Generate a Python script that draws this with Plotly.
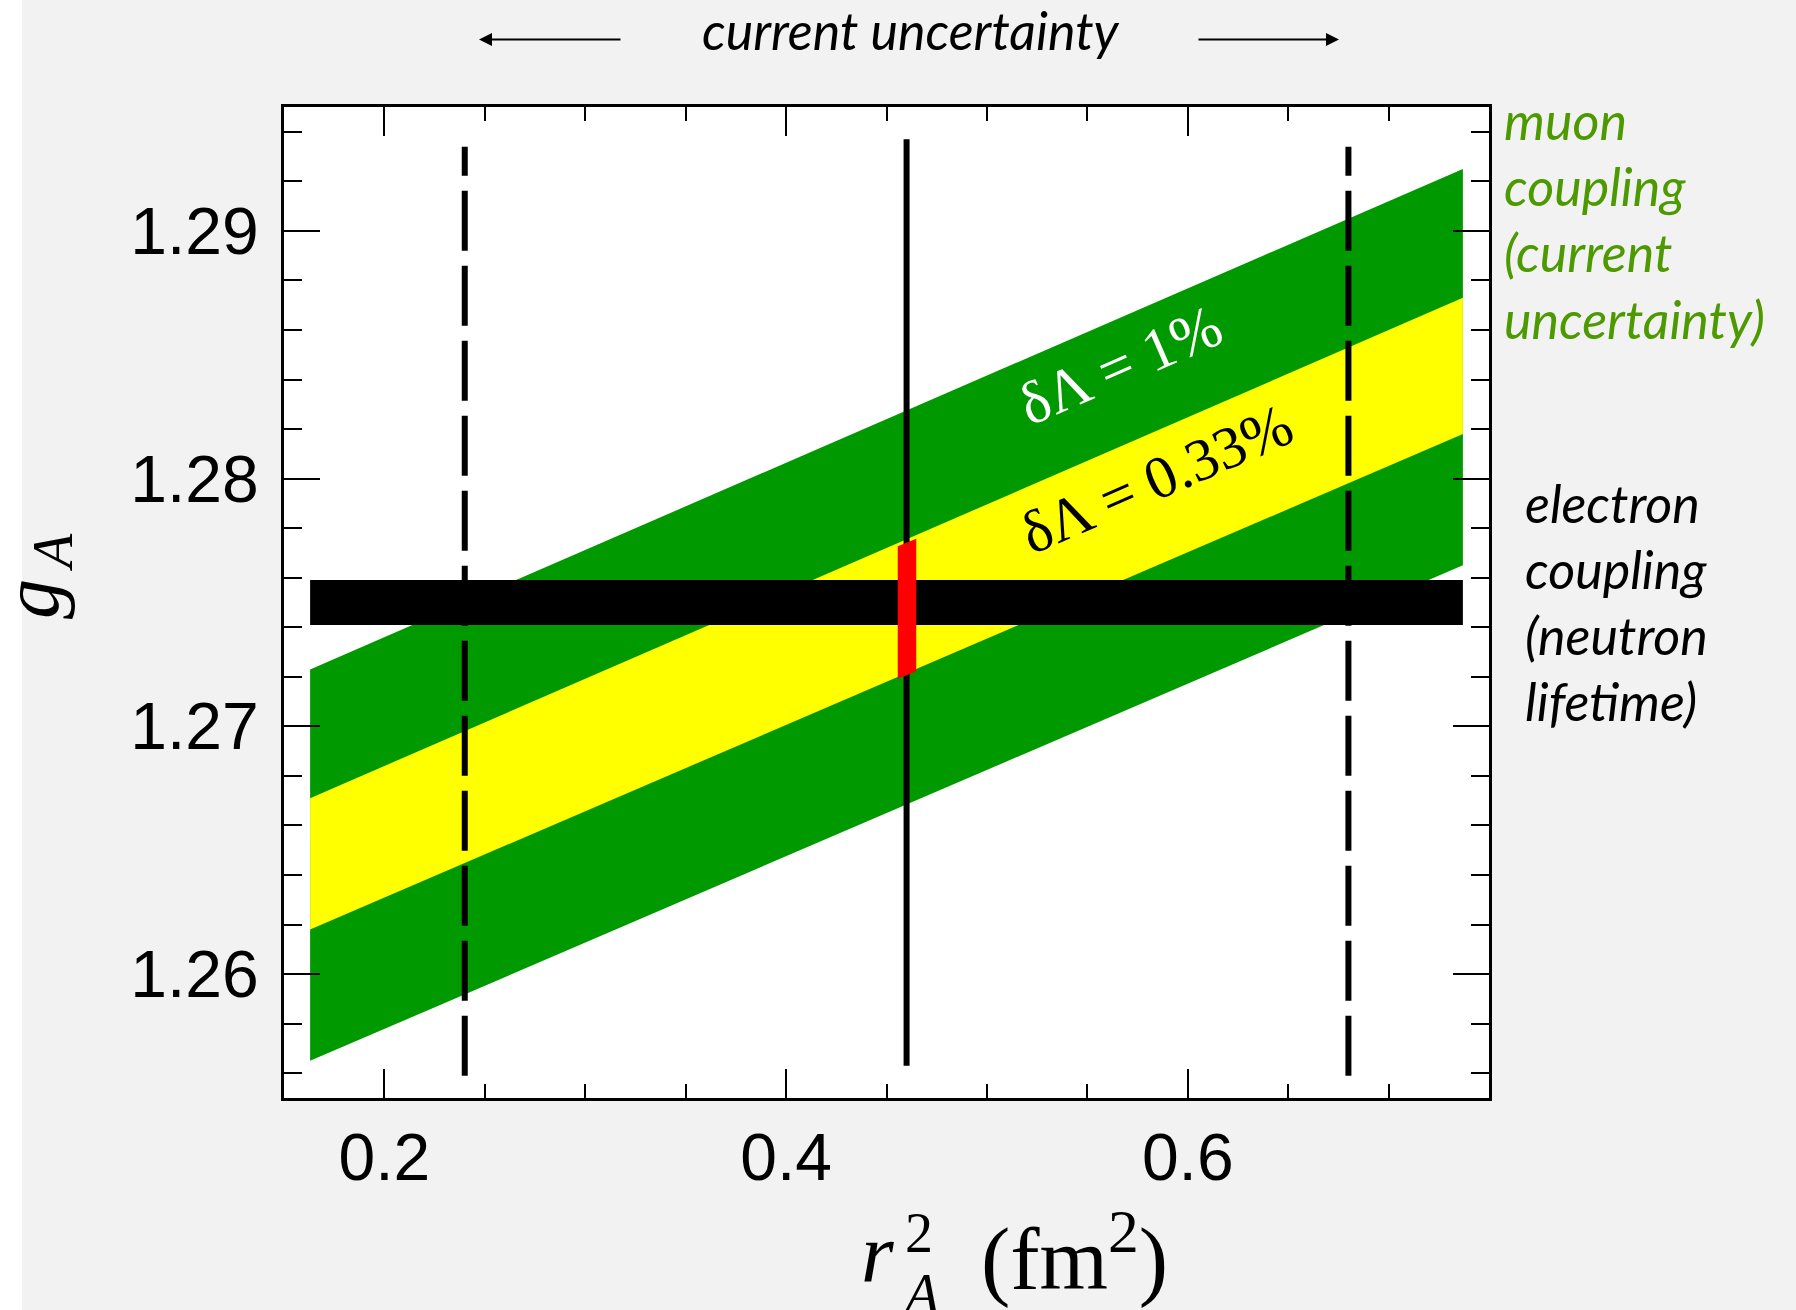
import plotly.graph_objects as go

# ---------------- data ----------------
band_x = [0.163, 0.737]
green_upper = [1.2723, 1.2925]     # muon coupling, delta Lambda = 1%
yellow_upper = [1.2671, 1.2873]    # delta Lambda = 0.33%
yellow_lower = [1.2618, 1.2818]
green_lower = [1.2565, 1.2765]

neutron_x = [0.163, 0.737]          # electron coupling (neutron lifetime)
neutron_gA = 1.275
neutron_half = 0.00091

red_x = [0.4556, 0.4648]
red_top = [1.27727, 1.27757]
red_bottom = [1.27192, 1.27221]

central_rA2 = 0.46
central_y = [1.2563, 1.2937]
bound_rA2 = [0.24, 0.68]
bound_y = [1.2559, 1.2934]

x_range = [0.15, 0.75]
y_range = [1.255, 1.295]

# ---------------- layout geometry ----------------
W, H = 1796, 1310
L, R, T, B = 284, 307, 107, 212
PW = W - L - R
PH = H - T - B


def px(x):
    return (x - L) / PW


def py(y):
    return (H - B - y) / PH


SANS = "Liberation Sans, Arial, sans-serif"
SERIF = "Liberation Serif, Times New Roman, serif"
HUMAN = "Lato, Open Sans, sans-serif"
GREEN_TXT = "#4d9900"
TXT = 52

fig = go.Figure()

# green band
fig.add_trace(go.Scatter(
    x=band_x + band_x[::-1], y=green_upper + green_lower[::-1],
    fill="toself", fillcolor="#009900", mode="lines", line=dict(width=0),
    hoverinfo="skip"))
# yellow band
fig.add_trace(go.Scatter(
    x=band_x + band_x[::-1], y=yellow_upper + yellow_lower[::-1],
    fill="toself", fillcolor="#ffff00", mode="lines", line=dict(width=0),
    hoverinfo="skip"))
# central vertical line
fig.add_trace(go.Scatter(
    x=[central_rA2, central_rA2], y=central_y, mode="lines",
    line=dict(color="black", width=6), hoverinfo="skip"))
# neutron lifetime bar
fig.add_trace(go.Scatter(
    x=[neutron_x[0], neutron_x[1], neutron_x[1], neutron_x[0]],
    y=[neutron_gA + neutron_half, neutron_gA + neutron_half,
       neutron_gA - neutron_half, neutron_gA - neutron_half],
    fill="toself", fillcolor="black", mode="lines", line=dict(width=0),
    hoverinfo="skip"))
# dashed bounds
for xb in bound_rA2:
    fig.add_trace(go.Scatter(
        x=[xb, xb], y=bound_y, mode="lines",
        line=dict(color="black", width=6, dash="60px,15px"),
        hoverinfo="skip"))
# red segment
fig.add_trace(go.Scatter(
    x=red_x + red_x[::-1], y=red_top + red_bottom[::-1],
    fill="toself", fillcolor="#ff0000", mode="lines", line=dict(width=0),
    hoverinfo="skip"))

axis_common = dict(
    ticks="inside", tickcolor="black", tickwidth=2,
    showline=True, linecolor="black", linewidth=3, mirror="ticks",
    showgrid=False, zeroline=False,
    tickfont=dict(family=SANS, size=66, color="black"),
)

fig.update_xaxes(range=x_range, tickmode="linear", tick0=0.2, dtick=0.2,
                 tickformat=".1f", ticklen=29, ticklabelstandoff=0,
                 minor=dict(dtick=0.05, tick0=0, ticklen=14, tickwidth=2,
                            ticks="inside", tickcolor="black", showgrid=False),
                 **axis_common)
fig.update_yaxes(range=y_range, tickmode="linear", tick0=1.26, dtick=0.01,
                 tickformat=".2f", ticklen=36, ticklabelstandoff=9,
                 minor=dict(dtick=0.002, tick0=1.26, ticklen=18, tickwidth=2,
                            ticks="inside", tickcolor="black", showgrid=False),
                 **axis_common)

ann = []
# top label and arrows
ann.append(dict(text="<i>current uncertainty</i>", x=px(911), y=py(30),
                xref="paper", yref="paper", showarrow=False,
                xanchor="center", yanchor="middle",
                font=dict(family=HUMAN, size=TXT, color="black")))
ann.append(dict(text="", x=px(479), y=py(39.5), xref="paper", yref="paper",
                ax=143, ay=0, showarrow=True, arrowhead=2, arrowsize=1.3,
                arrowwidth=2, arrowcolor="black", standoff=0))
ann.append(dict(text="", x=px(1339), y=py(39.5), xref="paper", yref="paper",
                ax=-142, ay=0, showarrow=True, arrowhead=2, arrowsize=1.3,
                arrowwidth=2, arrowcolor="black", standoff=0))

# right-side labels
muon_lines = ["muon", "coupling", "(current", "uncertainty)"]
muon_base = [140.6, 206, 272, 339]
for t, b in zip(muon_lines, muon_base):
    ann.append(dict(text="<i>%s</i>" % t, x=px(1502), y=py(b - 0.387 * TXT),
                    xref="paper", yref="paper", showarrow=False,
                    xanchor="left", yanchor="middle",
                    font=dict(family=HUMAN, size=TXT, color=GREEN_TXT)))
elec_lines = ["electron", "coupling", "(neutron", "lifetime)"]
elec_base = [523, 589, 655, 721]
for t, b in zip(elec_lines, elec_base):
    ann.append(dict(text="<i>%s</i>" % t, x=px(1523), y=py(b - 0.387 * TXT),
                    xref="paper", yref="paper", showarrow=False,
                    xanchor="left", yanchor="middle",
                    font=dict(family=HUMAN, size=TXT, color="black")))

# band labels
ann.append(dict(text="δΛ = 1%", x=0.5665, y=1.2846, xref="x", yref="y",
                showarrow=False, textangle=-23.5, xanchor="center",
                yanchor="middle",
                font=dict(family=SERIF, size=60, color="white")))
ann.append(dict(text="δΛ = 0.33%", x=0.5845, y=1.2800, xref="x", yref="y",
                showarrow=False, textangle=-23.5, xanchor="center",
                yanchor="middle",
                font=dict(family=SERIF, size=60, color="black")))

# x-axis title pieces
XT = 84
ann.append(dict(text="<i>r</i>", x=px(859), y=py(1281.7 - 0.3375 * XT),
                xref="paper", yref="paper", showarrow=False,
                xanchor="left", yanchor="middle",
                font=dict(family=SERIF, size=XT, color="black")))
ann.append(dict(text="2", x=px(903), y=py(1252 - 0.3375 * 56),
                xref="paper", yref="paper", showarrow=False,
                xanchor="left", yanchor="middle",
                font=dict(family=SERIF, size=56, color="black")))
ann.append(dict(text="<i>A</i>", x=px(899), y=py(1313 - 0.3375 * 56),
                xref="paper", yref="paper", showarrow=False,
                xanchor="left", yanchor="middle",
                font=dict(family=SERIF, size=56, color="black")))
ann.append(dict(text="(fm<sup>2</sup>)", x=px(979), y=py(1281.7 - 0.3375 * 88),
                xref="paper", yref="paper", showarrow=False,
                xanchor="left", yanchor="middle",
                font=dict(family=SERIF, size=88, color="black")))

# y-axis title pieces (rotated)
ann.append(dict(text="<i>g</i>", x=px(58 - 0.3375 * 80), y=py(599),
                xref="paper", yref="paper", showarrow=False, textangle=-90,
                xanchor="center", yanchor="middle",
                font=dict(family=SERIF, size=80, color="black")))
ann.append(dict(text="<i>A</i>", x=px(72 - 0.3375 * 56), y=py(553),
                xref="paper", yref="paper", showarrow=False, textangle=-90,
                xanchor="center", yanchor="middle",
                font=dict(family=SERIF, size=56, color="black")))

fig.update_layout(
    width=W, height=H,
    margin=dict(l=L, r=R, t=T, b=B, pad=0),
    paper_bgcolor="#f2f2f2", plot_bgcolor="white",
    showlegend=False, annotations=ann,
    shapes=[dict(type="rect", xref="paper", yref="paper",
                 x0=px(0), x1=px(22), y0=py(H), y1=py(0),
                 fillcolor="white", line=dict(width=0), layer="below")],
)

fig.write_html("out.html")
